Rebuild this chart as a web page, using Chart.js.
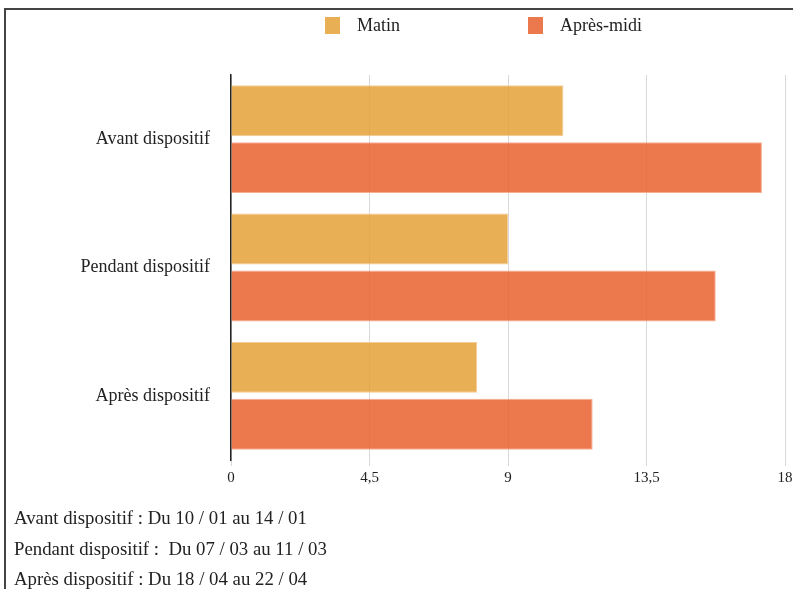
<!DOCTYPE html>
<html>
<head>
<meta charset="utf-8">
<script src="https://cdn.jsdelivr.net/npm/chart.js@4.4.1/dist/chart.umd.min.js"></script>
<style>
  body { margin: 0; background: #fff; font-family: "Liberation Serif", serif; color: #222; }
  #wrap { position: absolute; left: 0; top: 0; width: 793px; height: 589px; }
  #frame { position: absolute; left: 4px; top: 8px; width: 800px; height: 600px;
           border-left: 2px solid #444; border-top: 2px solid #444; pointer-events: none; }
  #legend { position: absolute; top: 15px; left: 0; width: 793px; height: 20px; }
  .item { position: absolute; top: 0; font-size: 18px; line-height: 20px; }
  .box { position: absolute; top: 2px; left: 0; width: 15px; height: 17px; }
  .item span { position: absolute; left: 32px; top: 0; white-space: nowrap; }
  #notes { position: absolute; left: 14px; top: 503px; font-size: 18.8px; line-height: 30.5px; }
</style>
</head>
<body>
<div id="wrap"><canvas id="composition"></canvas></div>
<div id="legend"></div>
<div id="notes"></div>
<div id="frame"></div>
<script>
var categories = ['Avant dispositif', 'Pendant dispositif', 'Après dispositif'];
var matin = [10.8, 9, 8];
var apres_midi = [17.25, 15.75, 11.75];
var series_names = ['Matin', 'Après-midi'];
var x_ticks = [0, 4.5, 9, 13.5, 18];
var x_tick_labels = ['0', '4,5', '9', '13,5', '18'];
var notes = ['Avant dispositif : Du 10 / 01 au 14 / 01',
             'Pendant dispositif :  Du 07 / 03 au 11 / 03',
             'Après dispositif : Du 18 / 04 au 22 / 04'];

var fills = ['rgba(229, 161, 54, 0.85)', 'rgba(233, 96, 46, 0.85)'];
var edges = ['rgba(243, 200, 140, 0.9)', 'rgba(245, 165, 135, 0.9)'];
var legend_x = [325, 528];

function bar_chart(canvas)
{
    var myChart = new Chart(canvas, {
        type: 'bar',
        data: {
            labels: categories,
            datasets: [{label: series_names[0], data: matin,
                        backgroundColor: fills[0], borderColor: edges[0], borderWidth: 1},
                       {label: series_names[1], data: apres_midi,
                        backgroundColor: fills[1], borderColor: edges[1], borderWidth: 1}]
        },
        options: {
            indexAxis: 'y',
            responsive: true,
            maintainAspectRatio: false,
            animation: false,
            categoryPercentage: 0.887,
            barPercentage: 0.895,
            layout: { padding: { top: 75, right: 0, bottom: 89, left: 0 } },
            plugins: { legend: { display: false }, tooltip: { enabled: false } },
            scales: {
                x: {
                    min: 0,
                    max: 18,
                    afterBuildTicks: function(scale) {
                        scale.ticks = x_ticks.map(function(v) { return {value: v}; });
                    },
                    afterFit: function(scale) {
                        scale.height = 40;
                        scale.paddingRight = 8;
                    },
                    ticks: {
                        callback: function(v, i) { return x_tick_labels[i]; },
                        color: '#222',
                        font: { family: 'Liberation Serif', size: 15 },
                        padding: 3,
                        maxRotation: 0
                    },
                    grid: { color: '#d8d8d8', lineWidth: 1, tickLength: 6 },
                    border: { display: false }
                },
                y: {
                    afterFit: function(scale) { scale.width = 231; },
                    ticks: {
                        color: '#222',
                        font: { family: 'Liberation Serif', size: 18 },
                        padding: 21
                    },
                    grid: { display: false, drawTicks: false },
                    border: { display: true, color: '#222', width: 1.5 }
                }
            }
        }
    });
    window.myChart = myChart;
}

bar_chart(document.getElementById('composition'));

var legend = document.getElementById('legend');
series_names.forEach(function(name, i) {
    var item = document.createElement('div');
    item.className = 'item';
    item.style.left = legend_x[i] + 'px';
    item.innerHTML = '<div class="box" style="background:' + fills[i] + '"></div><span>' + name + '</span>';
    legend.appendChild(item);
});

document.getElementById('notes').innerHTML = notes.map(function(t) {
    return '<div style="white-space:pre">' + t + '</div>';
}).join('');
</script>
</body>
</html>
